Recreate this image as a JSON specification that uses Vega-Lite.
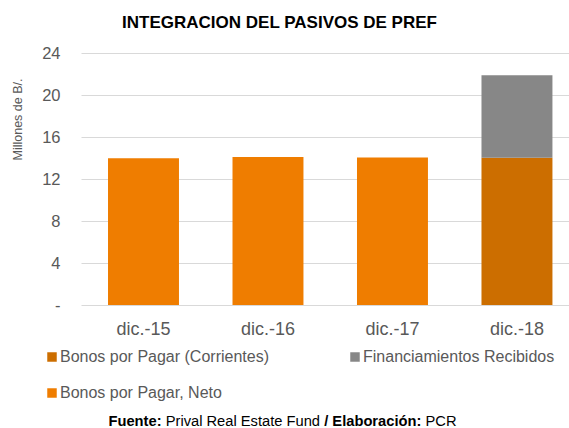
{
  "$schema": "https://vega.github.io/schema/vega-lite/v6.json",
  "width": 488,
  "height": 252,
  "autosize": {"type": "none"},
  "padding": {"left": 81, "top": 53, "right": 0, "bottom": 123},
  "background": "white",
  "config": {
    "font": "Liberation Sans",
    "view": {"stroke": null},
    "axisX": {
      "titleFontSize": 14.7,
      "titleColor": "#000000",
      "titleY": 120.5,
      "titleBaseline": "alphabetic",
      "titleAlign": "left",
      "domain": false,
      "ticks": false,
      "grid": false
    }
  },
  "title": {
    "text": "INTEGRACION DEL PASIVOS DE PREF",
    "fontSize": 17,
    "fontWeight": "bold",
    "color": "#000000",
    "anchor": "middle",
    "frame": "group",
    "dx": -45.5,
    "offset": 13
  },
  "data": {
    "values": [
      {"fecha": "dic.-15", "serie": "Bonos por Pagar, Neto", "orden": 1, "valor": 13.97},
      {"fecha": "dic.-16", "serie": "Bonos por Pagar, Neto", "orden": 1, "valor": 14.1},
      {"fecha": "dic.-17", "serie": "Bonos por Pagar, Neto", "orden": 1, "valor": 14.05},
      {"fecha": "dic.-18", "serie": "Bonos por Pagar (Corrientes)", "orden": 1, "valor": 14.03},
      {"fecha": "dic.-18", "serie": "Financiamientos Recibidos", "orden": 2, "valor": 7.85}
    ]
  },
  "resolve": {"axis": {"x": "independent"}},
  "layer": [
    {
      "mark": {"type": "bar"},
      "encoding": {
        "x": {
          "field": "fecha",
          "type": "nominal",
          "sort": null,
          "scale": {"paddingInner": 0.43, "paddingOuter": 0.175, "align": 0.62},
          "axis": {
            "orient": "bottom",
            "title": "Fuente:",
            "titleFontWeight": "bold",
            "titleX": 27,
            "labelAngle": 0,
            "labelFontSize": 18,
            "labelColor": "#595959",
            "labelPadding": 29,
            "labelBaseline": "alphabetic"
          }
        },
        "y": {
          "field": "valor",
          "type": "quantitative",
          "stack": "zero",
          "scale": {"domain": [0, 24], "nice": false},
          "axis": {
            "title": "Millones de B/.",
            "values": [0, 4, 8, 12, 16, 20, 24],
            "labelExpr": "datum.value == 0 ? '-  ' : datum.label",
            "grid": true,
            "gridColor": "#d9d9d9",
            "gridWidth": 1,
            "domain": false,
            "ticks": false,
            "labelPadding": 21,
            "labelFontSize": 16.5,
            "labelColor": "#595959",
            "titleFontSize": 12.5,
            "titleFontWeight": "normal",
            "titleColor": "#595959",
            "titleX": -63.5,
            "titleY": 66,
            "titleAngle": -90,
            "titleAlign": "center",
            "titleBaseline": "middle"
          }
        },
        "order": {"field": "orden", "type": "quantitative", "sort": "ascending"},
        "color": {
          "field": "serie",
          "type": "nominal",
          "scale": {
            "domain": ["Bonos por Pagar (Corrientes)", "Bonos por Pagar, Neto", "Financiamientos Recibidos"],
            "range": ["#CC6E00", "#EF7D00", "#878787"]
          },
          "legend": {
            "title": null,
            "orient": "none",
            "legendX": -37,
            "legendY": 296,
            "columns": 2,
            "columnPadding": 78,
            "rowPadding": 20,
            "symbolType": "square",
            "symbolSize": 90,
            "symbolStrokeWidth": 0,
            "labelFontSize": 16,
            "labelColor": "#595959",
            "labelOffset": 0,
            "labelLimit": 400,
            "padding": 0
          }
        }
      }
    },
    {
      "mark": {"type": "bar", "opacity": 0},
      "encoding": {
        "x": {
          "field": "fecha",
          "type": "nominal",
          "sort": null,
          "axis": {
            "orient": "bottom",
            "labels": false,
            "title": "Prival Real Estate Fund",
            "titleFontWeight": "normal",
            "titleX": 84.2
          }
        }
      }
    },
    {
      "mark": {"type": "bar", "opacity": 0},
      "encoding": {
        "x": {
          "field": "fecha",
          "type": "nominal",
          "sort": null,
          "axis": {
            "orient": "bottom",
            "labels": false,
            "title": "/ Elaboración:",
            "titleFontWeight": "bold",
            "titleX": 242.7
          }
        }
      }
    },
    {
      "mark": {"type": "bar", "opacity": 0},
      "encoding": {
        "x": {
          "field": "fecha",
          "type": "nominal",
          "sort": null,
          "axis": {
            "orient": "bottom",
            "labels": false,
            "title": "PCR",
            "titleFontWeight": "normal",
            "titleX": 344
          }
        }
      }
    }
  ]
}
